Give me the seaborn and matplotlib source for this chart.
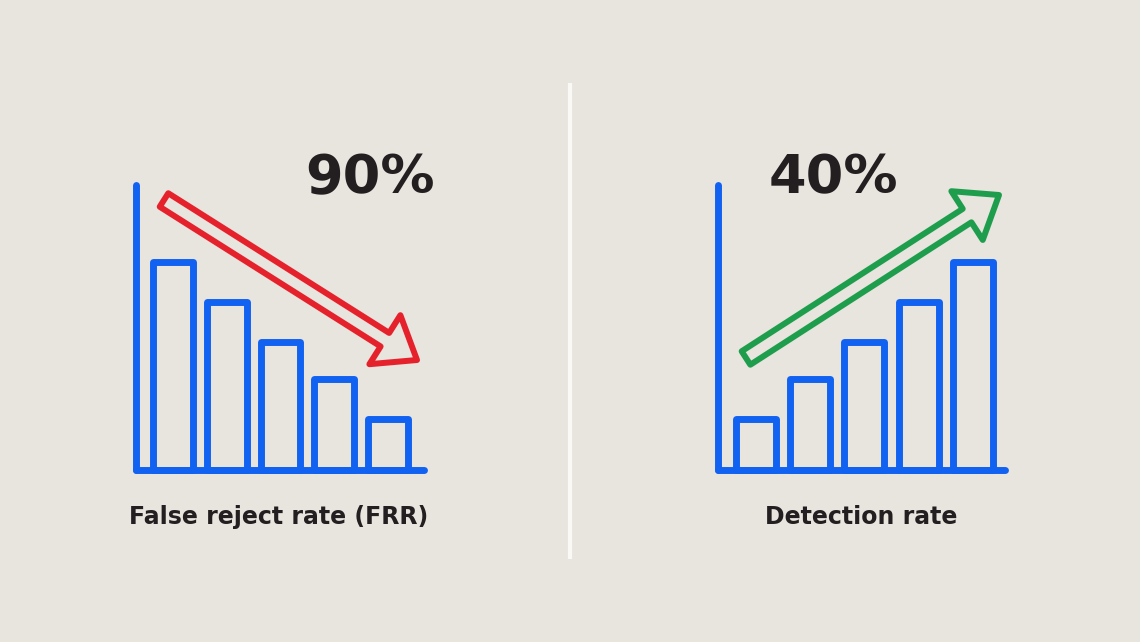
import matplotlib
matplotlib.use("Agg")
import matplotlib.pyplot as plt
import seaborn as sns
import pandas as pd
from matplotlib.patches import FancyArrow

# data
steps = ["1", "2", "3", "4", "5"]
frr_bars = [7.3, 5.9, 4.5, 3.2, 1.8]
detection_bars = [1.8, 3.2, 4.5, 5.9, 7.3]
frr_value = "90%"
detection_value = "40%"
frr_label = "False reject rate (FRR)"
detection_label = "Detection rate"

BG = "#E8E4DE"
BLUE = "#1262F2"
RED = "#E5212B"
GREEN = "#1E9E4C"
INK = "#231F20"

sns.set_theme(style="white")
plt.rcParams["font.family"] = ["DejaVu Sans"]

W, H = 1140, 642
fig = plt.figure(figsize=(W / 100, H / 100), dpi=100, facecolor=BG)


def bar_panel(rect, values, xlim):
    ax = fig.add_axes(rect)
    ax.set_facecolor("none")
    df = pd.DataFrame({"step": steps, "value": values})
    sns.barplot(data=df, x="step", y="value", ax=ax, fill=False,
                color=BLUE, linewidth=5, width=0.74, saturation=1)
    for p in ax.patches:
        p.set_edgecolor(BLUE)
        p.set_joinstyle("round")
        p.set_clip_on(False)
    ax.set_xlim(*xlim)
    ax.set_ylim(0, 10)
    for side in ["top", "right"]:
        ax.spines[side].set_visible(False)
    for side in ["left", "bottom"]:
        ax.spines[side].set_color(BLUE)
        ax.spines[side].set_linewidth(5)
        ax.spines[side].set_capstyle("round")
    ax.set_xticks([])
    ax.set_yticks([])
    ax.set_xlabel("")
    ax.set_ylabel("")
    return ax


bar_panel([136 / W, 1 - 470 / H, 288 / W, 285 / H], frr_bars, (-0.69, 4.67))
bar_panel([718 / W, 1 - 470 / H, 287 / W, 285 / H], detection_bars, (-0.71, 4.6))

# overlay in pixel coordinates
ov = fig.add_axes([0, 0, 1, 1], zorder=5)
ov.set_xlim(0, W)
ov.set_ylim(H, 0)
ov.axis("off")
ov.set_facecolor("none")

ov.plot([570, 570], [83, 559], color="#FBF9F6", lw=3, solid_capstyle="butt")


def hollow_arrow(x0, y0, x1, y1, color):
    a = FancyArrow(x0, y0, x1 - x0, y1 - y0, width=16, head_width=58,
                   head_length=38, length_includes_head=True, fill=False,
                   edgecolor=color, linewidth=4.3, joinstyle="round")
    ov.add_patch(a)


hollow_arrow(164, 200, 417, 360, RED)
hollow_arrow(746, 358, 999, 195, GREEN)

big = dict(fontsize=39, fontweight="bold", color=INK, ha="center", va="center")
ov.text(370, 178, frr_value, **big)
ov.text(833, 178, detection_value, **big)

lab = dict(fontsize=17, fontweight="bold", color=INK, ha="center", va="center")
ov.text(279, 517, frr_label, **lab)
ov.text(861, 517, detection_label, **lab)

fig.savefig("out.png", dpi=100, facecolor=BG)
